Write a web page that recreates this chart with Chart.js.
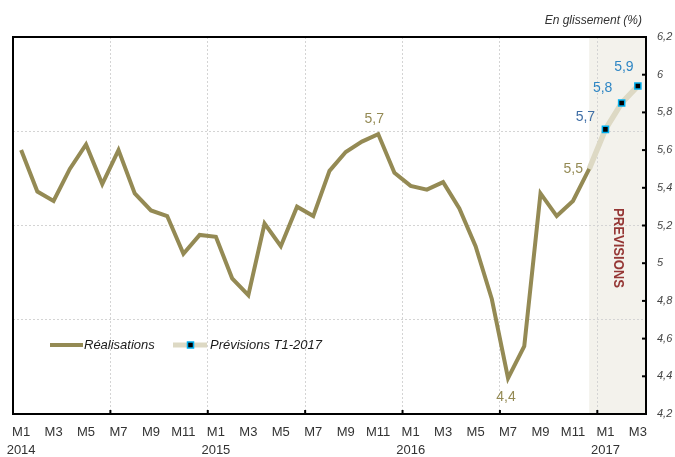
<!DOCTYPE html>
<html>
<head>
<meta charset="utf-8">
<script src="https://cdn.jsdelivr.net/npm/chart.js@4.4.0/dist/chart.umd.min.js"></script>
<style>
  html, body { margin: 0; padding: 0; background: #fff; }
  canvas { display: block; }
</style>
</head>
<body>
<canvas id="chart" width="675" height="457"></canvas>
<script>
// DATA

const categories = [
  "M1 2014", "M2 2014", "M3 2014", "M4 2014", "M5 2014", "M6 2014",
  "M7 2014", "M8 2014", "M9 2014", "M10 2014", "M11 2014", "M12 2014",
  "M1 2015", "M2 2015", "M3 2015", "M4 2015", "M5 2015", "M6 2015",
  "M7 2015", "M8 2015", "M9 2015", "M10 2015", "M11 2015", "M12 2015",
  "M1 2016", "M2 2016", "M3 2016", "M4 2016", "M5 2016", "M6 2016",
  "M7 2016", "M8 2016", "M9 2016", "M10 2016", "M11 2016", "M12 2016",
  "M1 2017", "M2 2017", "M3 2017",
];

const realisations = [
  5.60, 5.38, 5.33, 5.50, 5.63, 5.42, 5.60, 5.37, 5.28, 5.25, 5.05, 5.15,
  5.14, 4.92, 4.83, 5.21, 5.09, 5.30, 5.25, 5.49, 5.59, 5.645, 5.685, 5.48,
  5.41, 5.39, 5.43, 5.29, 5.09, 4.81, 4.39, 4.56, 5.37, 5.25, 5.33, 5.50,
  null, null, null,
];

const previsions = [
  null, null, null, null, null, null, null, null, null, null, null, null,
  null, null, null, null, null, null, null, null, null, null, null, null,
  null, null, null, null, null, null, null, null, null, null, null, 5.50,
  5.71, 5.85, 5.94,
];

const yTicks = [4.2, 4.4, 4.6, 4.8, 5.0, 5.2, 5.4, 5.6, 5.8, 6.0, 6.2];
const yGridLines = [4.7, 5.2, 5.7];

// label text, dataset, point index, offset from point
const pointLabels = [
  { text: "5,7", ds: 0, i: 22, dx: -4, dy: -15, color: "#948A54" },
  { text: "4,4", ds: 0, i: 30, dx: -2, dy: 19, color: "#948A54" },
  { text: "5,5", ds: 0, i: 35, dx: -16, dy: 0, color: "#948A54" },
  { text: "5,7", ds: 1, i: 36, dx: -20, dy: -12, color: "#3F6EA6" },
  { text: "5,8", ds: 1, i: 37, dx: -19, dy: -15, color: "#2E86C4" },
  { text: "5,9", ds: 1, i: 38, dx: -14, dy: -19, color: "#2E86C4" },
];

const OLIVE = "#948A54";
const BEIGE = "#DDD9C4";
const SHADE = "#F3F2EC";
const FONT = "'Liberation Sans', Arial, sans-serif";

// PLUGINS

const shadePlugin = {
  id: "shade",
  beforeDraw(chart) {
    const { ctx, chartArea, scales } = chart;
    const x0 = scales.x.getPixelForValue(35);
    ctx.save();
    ctx.fillStyle = SHADE;
    ctx.fillRect(x0, chartArea.top, chartArea.right - x0, chartArea.bottom - chartArea.top);
    ctx.restore();
  },
};

const framePlugin = {
  id: "frame",
  afterDatasetsDraw(chart) {
    const { ctx, chartArea, scales } = chart;
    const { left, right, top, bottom } = chartArea;
    ctx.save();

    // PREVISIONS
    const xMid = (scales.x.getPixelForValue(35) + right) / 2;
    ctx.translate(xMid, top + 211);
    ctx.rotate(Math.PI / 2);
    ctx.fillStyle = "#953735";
    ctx.font = "bold 14px " + FONT;
    ctx.textAlign = "center";
    ctx.textBaseline = "middle";
    ctx.fillText("PREVISIONS", 0, 0, 80);
    ctx.setTransform(1, 0, 0, 1, 0, 0);

    // box
    ctx.strokeStyle = "#000";
    ctx.lineWidth = 2;
    ctx.strokeRect(left, top, right - left, bottom - top);

    // inward ticks on the right axis
    yTicks.forEach((v) => {
      const y = scales.y.getPixelForValue(v);
      ctx.beginPath();
      ctx.moveTo(right - 4, y);
      ctx.lineTo(right, y);
      ctx.stroke();
    });
    // inward ticks on the bottom axis, every 6 months
    const step = (right - left) / categories.length;
    for (let i = 6; i < categories.length; i += 6) {
      const x = scales.x.getPixelForValue(i) - step / 2;
      ctx.beginPath();
      ctx.moveTo(x, bottom);
      ctx.lineTo(x, bottom - 4);
      ctx.stroke();
    }

    // value labels
    ctx.font = "14px " + FONT;
    ctx.textAlign = "center";
    ctx.textBaseline = "middle";
    pointLabels.forEach((l) => {
      const pt = chart.getDatasetMeta(l.ds).data[l.i];
      ctx.fillStyle = l.color;
      ctx.fillText(l.text, pt.x + l.dx, pt.y + l.dy);
    });

    // title
    ctx.font = "italic 12px " + FONT;
    ctx.fillStyle = "#333";
    ctx.textAlign = "right";
    ctx.fillText("En glissement (%)", 642, 21);

    // legend
    const ly = 345;
    ctx.lineWidth = 4;
    ctx.strokeStyle = OLIVE;
    ctx.beginPath();
    ctx.moveTo(50, ly);
    ctx.lineTo(83, ly);
    ctx.stroke();
    ctx.lineWidth = 5;
    ctx.strokeStyle = BEIGE;
    ctx.beginPath();
    ctx.moveTo(173, ly);
    ctx.lineTo(207, ly);
    ctx.stroke();
    ctx.fillStyle = "#000";
    ctx.fillRect(187.5, ly - 3, 6, 6);
    ctx.lineWidth = 1.5;
    ctx.strokeStyle = "#00B0F0";
    ctx.strokeRect(187.5, ly - 3, 6, 6);
    ctx.font = "italic 13px " + FONT;
    ctx.fillStyle = "#1a1a1a";
    ctx.textAlign = "left";
    ctx.fillText("Réalisations", 84, ly);
    ctx.fillText("Prévisions T1-2017", 210, ly);

    ctx.restore();
  },
};

// CHART

const chart = new Chart(document.getElementById("chart"), {
  type: "line",
  data: {
    labels: categories,
    datasets: [
      {
        label: "Réalisations",
        data: realisations,
        borderColor: OLIVE,
        borderWidth: 4,
        pointRadius: 0,
        tension: 0,
      },
      {
        label: "Prévisions T1-2017",
        data: previsions,
        borderColor: BEIGE,
        borderWidth: 5.5,
        pointStyle: "rect",
        pointRadius: (ctx) => (ctx.dataIndex > 35 ? 4.3 : 0),
        pointBackgroundColor: "#000",
        pointBorderColor: "#00B0F0",
        pointBorderWidth: 1.5,
        tension: 0,
      },
    ],
  },
  options: {
    responsive: false,
    animation: false,
    layout: { padding: { left: 13, top: 37, right: 0, bottom: 0 } },
    plugins: {
      legend: { display: false },
      tooltip: { enabled: false },
    },
    scales: {
      x: {
        type: "category",
        offset: true,
        grid: {
          offset: true,
          drawTicks: false,
          lineWidth: 1,
          color: (ctx) =>
            ctx.index > 0 && ctx.index < categories.length && ctx.index % 6 === 0 ? "#d4d4d4" : "transparent",
        },
        border: { display: false, dash: [2, 2] },
        ticks: {
          autoSkip: false,
          maxRotation: 0,
          minRotation: 0,
          padding: 10,
          color: "#333",
          font: { family: FONT, size: 13, lineHeight: 1.35 },
          callback: (value, index) => {
            if (index % 2 !== 0) return "";
            const [month, year] = categories[index].split(" ");
            return month === "M1" ? [month, year] : month;
          },
        },
        afterFit: (scale) => {
          scale.height = 43;
          scale.paddingLeft = 0;
          scale.paddingRight = 0;
        },
      },
      y: {
        position: "right",
        min: 4.2,
        max: 6.2,
        grid: { drawOnChartArea: false, drawTicks: false },
        border: { display: false },
        afterBuildTicks: (scale) => {
          scale.ticks = yTicks.map((v) => ({ value: v }));
        },
        ticks: {
          padding: 11,
          color: "#444",
          font: { family: FONT, size: 11, style: "italic" },
          callback: (v) => String(Number(v.toFixed(1))).replace(".", ","),
        },
        afterFit: (scale) => {
          scale.width = 29;
          scale.paddingTop = 0;
          scale.paddingBottom = 0;
        },
      },
      yg: {
        position: "left",
        min: 4.2,
        max: 6.2,
        grid: { color: "#d4d4d4", lineWidth: 1, drawTicks: false },
        border: { display: false, dash: [2, 2] },
        ticks: { display: false },
        afterBuildTicks: (scale) => {
          scale.ticks = yGridLines.map((v) => ({ value: v }));
        },
        afterFit: (scale) => {
          scale.width = 0;
        },
      },
    },
  },
  plugins: [shadePlugin, framePlugin],
});
</script>
</body>
</html>
